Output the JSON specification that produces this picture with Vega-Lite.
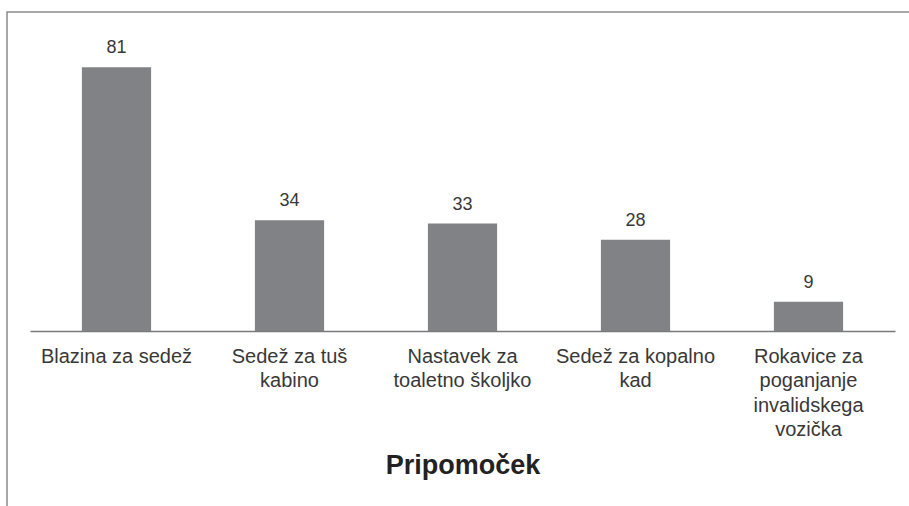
{
  "$schema": "https://vega.github.io/schema/vega-lite/v6.json",
  "width": 920,
  "height": 520,
  "autosize": {"type": "none"},
  "padding": {"left": 7, "top": 12, "right": 0, "bottom": 0},
  "background": "white",
  "config": {
    "view": {"stroke": "#8c8c8c", "strokeWidth": 1.5},
    "font": "Liberation Sans"
  },
  "data": {
    "values": [
      {"pripomocek": "Blazina za sedež", "stevilo": 81},
      {"pripomocek": "Sedež za tuš kabino", "stevilo": 34},
      {"pripomocek": "Nastavek za toaletno školjko", "stevilo": 33},
      {"pripomocek": "Sedež za kopalno kad", "stevilo": 28},
      {"pripomocek": "Rokavice za poganjanje invalidskega vozička", "stevilo": 9}
    ]
  },
  "encoding": {
    "x": {
      "field": "pripomocek",
      "type": "nominal",
      "sort": null,
      "scale": {"range": [23, 888], "paddingInner": 0.6, "paddingOuter": 0.3},
      "axis": {
        "title": "Pripomoček",
        "orient": "bottom",
        "offset": -201,
        "domainColor": "#7a7a7a",
        "domainWidth": 1.5,
        "ticks": false,
        "tickSize": 0,
        "labelAngle": 0,
        "labelFontSize": 20,
        "labelColor": "#383838",
        "labelPadding": 15,
        "labelLineHeight": 24.5,
        "labelLimit": 0,
        "labelOverlap": false,
        "labelExpr": "datum.label == 'Sedež za tuš kabino' ? ['Sedež za tuš', 'kabino'] : datum.label == 'Nastavek za toaletno školjko' ? ['Nastavek za', 'toaletno školjko'] : datum.label == 'Sedež za kopalno kad' ? ['Sedež za kopalno', 'kad'] : datum.label == 'Rokavice za poganjanje invalidskega vozička' ? ['Rokavice za', 'poganjanje', 'invalidskega', 'vozička'] : datum.label",
        "titleFontSize": 27,
        "titleFontWeight": "bold",
        "titleColor": "#222222",
        "titlePadding": 13
      }
    },
    "y": {
      "field": "stevilo",
      "type": "quantitative",
      "scale": {"domain": [0, 98], "range": [319, 0]},
      "axis": null
    }
  },
  "layer": [
    {"mark": {"type": "bar", "color": "#808285"}},
    {
      "mark": {"type": "text", "baseline": "alphabetic", "dy": -14, "fontSize": 18, "color": "#383838"},
      "encoding": {"text": {"field": "stevilo", "type": "quantitative"}}
    }
  ]
}
